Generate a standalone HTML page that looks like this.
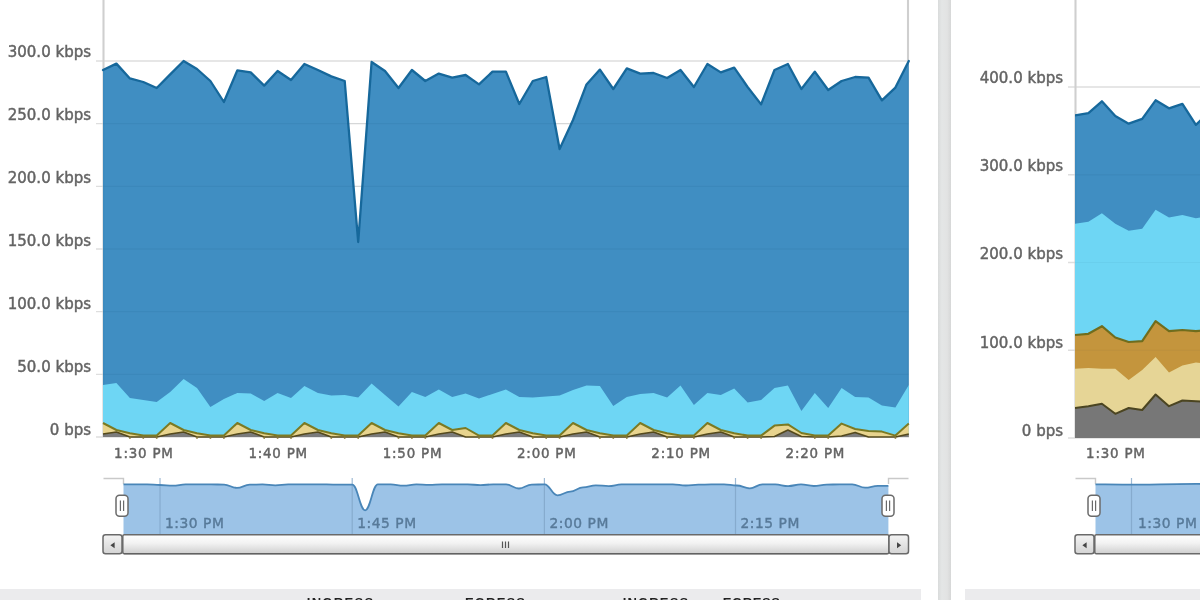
<!DOCTYPE html>
<html lang="en">
<head>
<meta charset="utf-8">
<title>Bandwidth charts</title>
<style>
html,body{margin:0;padding:0;background:#fff;}
body{width:1200px;height:600px;overflow:hidden;position:relative;}
svg{display:block;position:absolute;left:0;top:0;}
svg text{font-family:"DejaVu Sans", "Liberation Sans", sans-serif;font-size:15px;fill:#646464;stroke:#646464;stroke-width:0.45px;}
svg text.nl{fill:#587a99;stroke:#587a99;stroke-width:0.4px;font-size:13.8px;letter-spacing:0.55px;}
svg text.xl{font-size:13.4px;letter-spacing:0.8px;}
.hd{font-family:"Liberation Sans",sans-serif;font-size:13px;font-weight:bold;fill:#222;stroke:none;}
</style>
</head>
<body>
<svg width="1200" height="600" viewBox="0 0 1200 600">
<defs>
<linearGradient id="sb" x1="0" y1="0" x2="0" y2="1"><stop offset="0" stop-color="#ffffff"/><stop offset="0.45" stop-color="#f2f2f2"/><stop offset="1" stop-color="#cfcfcf"/></linearGradient>
<linearGradient id="bt" x1="0" y1="0" x2="0" y2="1"><stop offset="0" stop-color="#f4f4f4"/><stop offset="1" stop-color="#d4d4d4"/></linearGradient>
<linearGradient id="sep" x1="0" y1="0" x2="1" y2="0"><stop offset="0" stop-color="#d9dbdb"/><stop offset="0.3" stop-color="#e4e6e6"/><stop offset="0.7" stop-color="#e2e3e3"/><stop offset="1" stop-color="#d6d7d7"/></linearGradient>
<clipPath id="cr"><rect x="1075" y="0" width="140" height="600"/></clipPath>
<filter id="soft" x="-2%" y="-2%" width="104%" height="104%"><feGaussianBlur stdDeviation="0.5"/></filter>
</defs>
<rect width="1200" height="600" fill="#ffffff"/>
<g filter="url(#soft)">
<rect x="-20" y="-20" width="1240" height="640" fill="#ffffff"/>
<rect x="938" y="-10" width="13" height="620" fill="url(#sep)"/>
<rect x="-10" y="589" width="931" height="21" fill="#ebebed"/>
<rect x="965" y="589" width="250" height="21" fill="#ebebed"/>
<text class="hd" x="306.7" y="606.6" textLength="66.5" lengthAdjust="spacing">INGRESS</text>
<text class="hd" x="465" y="606.6" textLength="60" lengthAdjust="spacing">EGRESS</text>
<text class="hd" x="622.7" y="606.6" textLength="65.5" lengthAdjust="spacing">INGRESS</text>
<text class="hd" x="722.8" y="606.6" textLength="57" lengthAdjust="spacing">EGRESS</text>
<g id="left-chart">
<line x1="96" y1="61.00" x2="909" y2="61.00" stroke="#dedede" stroke-width="1.4"/>
<line x1="96" y1="123.67" x2="909" y2="123.67" stroke="#dedede" stroke-width="1.4"/>
<line x1="96" y1="186.33" x2="909" y2="186.33" stroke="#dedede" stroke-width="1.4"/>
<line x1="96" y1="249.00" x2="909" y2="249.00" stroke="#dedede" stroke-width="1.4"/>
<line x1="96" y1="311.67" x2="909" y2="311.67" stroke="#dedede" stroke-width="1.4"/>
<line x1="96" y1="374.33" x2="909" y2="374.33" stroke="#dedede" stroke-width="1.4"/>
<line x1="96" y1="437.00" x2="909" y2="437.00" stroke="#dedede" stroke-width="1.4"/>
<line x1="103.5" y1="-10" x2="103.5" y2="437" stroke="#cfcfcf" stroke-width="2.1"/>
<line x1="908" y1="-10" x2="908" y2="437" stroke="#cfcfcf" stroke-width="2.1"/>
<polygon points="103.0,437.0 103.0,70.0 116.4,63.6 129.9,78.4 143.3,82.0 156.7,88.0 170.2,74.4 183.6,61.0 197.0,69.0 210.4,81.0 223.9,102.0 237.3,70.4 250.7,72.4 264.2,85.6 277.6,71.0 291.0,80.0 304.4,64.0 317.9,70.0 331.3,76.4 344.7,81.0 358.2,242.0 371.6,62.0 385.0,71.0 398.5,88.0 411.9,70.0 425.3,81.0 438.8,73.6 452.2,77.6 465.6,75.0 479.0,84.4 492.5,71.6 505.9,71.6 519.3,104.0 532.8,81.0 546.2,77.0 559.6,149.0 573.0,120.0 586.5,84.4 599.9,69.6 613.3,89.0 626.8,68.4 640.2,73.6 653.6,73.0 667.1,78.0 680.5,70.0 693.9,87.0 707.4,64.0 720.8,72.4 734.2,67.6 747.6,87.0 761.1,104.4 774.5,70.0 787.9,64.0 801.4,89.0 814.8,71.6 828.2,90.0 841.6,81.0 855.1,77.0 868.5,77.6 881.9,100.4 895.4,87.6 908.8,61.0 908.8,437.0" fill="#3084bd" fill-opacity="0.92"/>
<polygon points="103.0,437.0 103.0,385.0 116.4,383.0 129.9,398.0 143.3,400.0 156.7,402.0 170.2,392.0 183.6,379.0 197.0,388.0 210.4,407.0 223.9,399.0 237.3,393.0 250.7,393.6 264.2,401.0 277.6,393.0 291.0,398.0 304.4,386.0 317.9,393.0 331.3,395.6 344.7,395.0 358.2,397.6 371.6,383.6 385.0,395.0 398.5,406.4 411.9,392.0 425.3,397.0 438.8,389.6 452.2,397.0 465.6,393.6 479.0,398.4 492.5,394.0 505.9,389.6 519.3,397.0 532.8,397.6 546.2,396.6 559.6,395.6 573.0,390.0 586.5,385.6 599.9,386.0 613.3,406.0 626.8,397.0 640.2,394.0 653.6,393.0 667.1,397.6 680.5,385.6 693.9,405.0 707.4,393.0 720.8,395.0 734.2,388.4 747.6,402.4 761.1,400.0 774.5,388.0 787.9,385.6 801.4,411.0 814.8,393.0 828.2,408.0 841.6,388.0 855.1,397.0 868.5,397.6 881.9,405.6 895.4,407.6 908.8,385.0 908.8,437.0" fill="#6ed6f4"/>
<polygon points="103.0,437.0 103.0,423.0 116.4,430.0 129.9,433.3 143.3,435.6 156.7,435.6 170.2,423.0 183.6,430.0 197.0,433.3 210.4,435.6 223.9,435.6 237.3,423.0 250.7,430.0 264.2,433.3 277.6,435.6 291.0,435.6 304.4,423.0 317.9,430.0 331.3,433.3 344.7,435.6 358.2,435.6 371.6,423.0 385.0,430.0 398.5,433.3 411.9,435.6 425.3,435.6 438.8,423.0 452.2,430.0 465.6,428.0 479.0,435.6 492.5,435.6 505.9,423.0 519.3,430.0 532.8,433.3 546.2,435.6 559.6,435.6 573.0,423.0 586.5,430.0 599.9,433.3 613.3,435.6 626.8,435.6 640.2,423.0 653.6,430.0 667.1,433.3 680.5,435.6 693.9,435.6 707.4,423.0 720.8,430.0 734.2,433.3 747.6,435.6 761.1,435.6 774.5,425.6 787.9,424.4 801.4,433.0 814.8,435.6 828.2,435.6 841.6,423.6 855.1,429.0 868.5,431.0 881.9,431.6 895.4,435.6 908.8,423.6 908.8,437.0" fill="#e8d48e"/>
<polygon points="103.0,437.0 103.0,434.0 116.4,432.0 129.9,437.0 143.3,437.0 156.7,437.0 170.2,434.0 183.6,432.0 197.0,437.0 210.4,437.0 223.9,437.0 237.3,434.0 250.7,432.0 264.2,437.0 277.6,437.0 291.0,437.0 304.4,434.0 317.9,432.0 331.3,437.0 344.7,437.0 358.2,437.0 371.6,434.0 385.0,432.0 398.5,437.0 411.9,437.0 425.3,437.0 438.8,434.0 452.2,432.0 465.6,437.0 479.0,437.0 492.5,437.0 505.9,434.0 519.3,432.0 532.8,437.0 546.2,437.0 559.6,437.0 573.0,434.0 586.5,432.0 599.9,437.0 613.3,437.0 626.8,437.0 640.2,434.0 653.6,432.0 667.1,437.0 680.5,437.0 693.9,437.0 707.4,434.0 720.8,432.0 734.2,437.0 747.6,437.0 761.1,437.0 774.5,436.5 787.9,430.0 801.4,436.5 814.8,437.0 828.2,437.0 841.6,436.0 855.1,432.4 868.5,437.0 881.9,437.0 895.4,437.0 908.8,434.0 908.8,437.0" fill="#7b7b7b"/>
<polyline points="103.0,434.0 116.4,432.0 129.9,437.0 143.3,437.0 156.7,437.0 170.2,434.0 183.6,432.0 197.0,437.0 210.4,437.0 223.9,437.0 237.3,434.0 250.7,432.0 264.2,437.0 277.6,437.0 291.0,437.0 304.4,434.0 317.9,432.0 331.3,437.0 344.7,437.0 358.2,437.0 371.6,434.0 385.0,432.0 398.5,437.0 411.9,437.0 425.3,437.0 438.8,434.0 452.2,432.0 465.6,437.0 479.0,437.0 492.5,437.0 505.9,434.0 519.3,432.0 532.8,437.0 546.2,437.0 559.6,437.0 573.0,434.0 586.5,432.0 599.9,437.0 613.3,437.0 626.8,437.0 640.2,434.0 653.6,432.0 667.1,437.0 680.5,437.0 693.9,437.0 707.4,434.0 720.8,432.0 734.2,437.0 747.6,437.0 761.1,437.0 774.5,436.5 787.9,430.0 801.4,436.5 814.8,437.0 828.2,437.0 841.6,436.0 855.1,432.4 868.5,437.0 881.9,437.0 895.4,437.0 908.8,434.0" fill="none" stroke="#544a1e" stroke-width="1.6" stroke-linejoin="round"/>
<polyline points="103.0,423.0 116.4,430.0 129.9,433.3 143.3,435.6 156.7,435.6 170.2,423.0 183.6,430.0 197.0,433.3 210.4,435.6 223.9,435.6 237.3,423.0 250.7,430.0 264.2,433.3 277.6,435.6 291.0,435.6 304.4,423.0 317.9,430.0 331.3,433.3 344.7,435.6 358.2,435.6 371.6,423.0 385.0,430.0 398.5,433.3 411.9,435.6 425.3,435.6 438.8,423.0 452.2,430.0 465.6,428.0 479.0,435.6 492.5,435.6 505.9,423.0 519.3,430.0 532.8,433.3 546.2,435.6 559.6,435.6 573.0,423.0 586.5,430.0 599.9,433.3 613.3,435.6 626.8,435.6 640.2,423.0 653.6,430.0 667.1,433.3 680.5,435.6 693.9,435.6 707.4,423.0 720.8,430.0 734.2,433.3 747.6,435.6 761.1,435.6 774.5,425.6 787.9,424.4 801.4,433.0 814.8,435.6 828.2,435.6 841.6,423.6 855.1,429.0 868.5,431.0 881.9,431.6 895.4,435.6 908.8,423.6" fill="none" stroke="#7c7a24" stroke-width="2" stroke-linejoin="round"/>
<polyline points="103.0,70.0 116.4,63.6 129.9,78.4 143.3,82.0 156.7,88.0 170.2,74.4 183.6,61.0 197.0,69.0 210.4,81.0 223.9,102.0 237.3,70.4 250.7,72.4 264.2,85.6 277.6,71.0 291.0,80.0 304.4,64.0 317.9,70.0 331.3,76.4 344.7,81.0 358.2,242.0 371.6,62.0 385.0,71.0 398.5,88.0 411.9,70.0 425.3,81.0 438.8,73.6 452.2,77.6 465.6,75.0 479.0,84.4 492.5,71.6 505.9,71.6 519.3,104.0 532.8,81.0 546.2,77.0 559.6,149.0 573.0,120.0 586.5,84.4 599.9,69.6 613.3,89.0 626.8,68.4 640.2,73.6 653.6,73.0 667.1,78.0 680.5,70.0 693.9,87.0 707.4,64.0 720.8,72.4 734.2,67.6 747.6,87.0 761.1,104.4 774.5,70.0 787.9,64.0 801.4,89.0 814.8,71.6 828.2,90.0 841.6,81.0 855.1,77.0 868.5,77.6 881.9,100.4 895.4,87.6 908.8,61.0" fill="none" stroke="#17679b" stroke-width="2.3" stroke-linejoin="round" stroke-linecap="round"/>
<line x1="103" y1="123.67" x2="909" y2="123.67" stroke="#00304a" stroke-width="1.2" stroke-opacity="0.04"/>
<line x1="103" y1="186.33" x2="909" y2="186.33" stroke="#00304a" stroke-width="1.2" stroke-opacity="0.04"/>
<line x1="103" y1="249.00" x2="909" y2="249.00" stroke="#00304a" stroke-width="1.2" stroke-opacity="0.04"/>
<line x1="103" y1="311.67" x2="909" y2="311.67" stroke="#00304a" stroke-width="1.2" stroke-opacity="0.04"/>
<line x1="103" y1="374.33" x2="909" y2="374.33" stroke="#00304a" stroke-width="1.2" stroke-opacity="0.04"/>
<path d="M129.9,436.5 v2.4 M143.3,436.5 v2.4 M156.7,436.5 v2.4 M197.0,436.5 v2.4 M210.4,436.5 v2.4 M223.9,436.5 v2.4 M264.2,436.5 v2.4 M277.6,436.5 v2.4 M291.0,436.5 v2.4 M331.3,436.5 v2.4 M344.7,436.5 v2.4 M358.2,436.5 v2.4 M398.5,436.5 v2.4 M411.9,436.5 v2.4 M425.3,436.5 v2.4 M479.0,436.5 v2.4 M492.5,436.5 v2.4 M532.8,436.5 v2.4 M546.2,436.5 v2.4 M559.6,436.5 v2.4 M599.9,436.5 v2.4 M613.3,436.5 v2.4 M626.8,436.5 v2.4 M667.1,436.5 v2.4 M680.5,436.5 v2.4 M693.9,436.5 v2.4 M734.2,436.5 v2.4 M747.6,436.5 v2.4 M761.1,436.5 v2.4 M814.8,436.5 v2.4 M828.2,436.5 v2.4 M895.4,436.5 v2.4 " stroke="#8a7a3a" stroke-width="1.6" stroke-opacity="0.8"/>
<text x="91" y="57.0" text-anchor="end">300.0 kbps</text>
<text x="91" y="120.0" text-anchor="end">250.0 kbps</text>
<text x="91" y="183.0" text-anchor="end">200.0 kbps</text>
<text x="91" y="246.0" text-anchor="end">150.0 kbps</text>
<text x="91" y="309.0" text-anchor="end">100.0 kbps</text>
<text x="91" y="372.0" text-anchor="end">50.0 kbps</text>
<text x="91" y="435.0" text-anchor="end">0 bps</text>
<text class="xl" x="143.9" y="457.5" text-anchor="middle">1:30 PM</text>
<text class="xl" x="278.2" y="457.5" text-anchor="middle">1:40 PM</text>
<text class="xl" x="412.5" y="457.5" text-anchor="middle">1:50 PM</text>
<text class="xl" x="546.8" y="457.5" text-anchor="middle">2:00 PM</text>
<text class="xl" x="681.1" y="457.5" text-anchor="middle">2:10 PM</text>
<text class="xl" x="815.4" y="457.5" text-anchor="middle">2:20 PM</text>
<path d="M103.5,478.5 H123.5 V484" fill="none" stroke="#c9c9c9" stroke-width="1.4"/>
<path d="M908.5,478.5 H888.5 V484" fill="none" stroke="#c9c9c9" stroke-width="1.4"/>
<path d="M123.5,484.4 C128.0,484.4 129.8,484.4 134.3,484.4 C139.7,484.4 141.8,484.4 147.1,484.4 C152.5,484.4 154.6,485.0 160.0,485.0 C165.3,485.0 167.4,485.7 172.8,485.7 C178.2,485.7 180.2,484.4 185.6,484.4 C191.0,484.4 193.0,484.4 198.4,484.4 C203.8,484.4 205.9,484.4 211.2,484.4 C216.6,484.4 218.7,484.6 224.1,484.6 C229.4,484.6 231.5,487.9 236.9,487.9 C242.3,487.9 244.3,484.7 249.7,484.7 C255.1,484.7 257.1,484.4 262.5,484.4 C267.9,484.4 270.0,485.3 275.3,485.3 C280.7,485.3 282.8,484.4 288.2,484.4 C293.5,484.4 295.6,484.4 301.0,484.4 C306.4,484.4 308.4,484.4 313.8,484.4 C319.2,484.4 321.2,484.4 326.6,484.4 C332.0,484.4 334.1,484.7 339.4,484.7 C344.8,484.7 346.9,484.6 352.3,484.6 C357.6,484.6 359.7,510.3 365.1,510.3 C370.5,510.3 372.5,484.4 377.9,484.4 C383.3,484.4 385.3,484.4 390.7,484.4 C396.1,484.4 398.2,485.7 403.5,485.7 C408.9,485.7 411.0,484.4 416.4,484.4 C421.7,484.4 423.8,484.9 429.2,484.9 C434.6,484.9 436.6,484.4 442.0,484.4 C447.4,484.4 449.4,484.4 454.8,484.4 C460.2,484.4 462.3,484.4 467.6,484.4 C473.0,484.4 475.1,485.1 480.5,485.1 C485.8,485.1 487.9,484.4 493.3,484.4 C498.7,484.4 500.7,484.4 506.1,484.4 C511.5,484.4 513.5,488.5 518.9,488.5 C524.3,488.5 526.4,484.6 531.7,484.6 C537.1,484.6 539.2,484.4 544.6,484.4 C549.9,484.4 552.0,495.4 557.4,495.4 C562.8,495.4 564.8,491.6 570.2,491.6 C575.6,491.6 577.6,487.4 583.0,487.4 C588.4,487.4 590.5,485.3 595.8,485.3 C601.2,485.3 603.3,486.1 608.7,486.1 C614.0,486.1 616.1,484.4 621.5,484.4 C626.9,484.4 628.9,484.4 634.3,484.4 C639.7,484.4 641.7,484.4 647.1,484.4 C652.5,484.4 654.6,484.4 659.9,484.4 C665.3,484.4 667.4,484.4 672.8,484.4 C678.1,484.4 680.2,485.5 685.6,485.5 C691.0,485.5 693.0,484.7 698.4,484.7 C703.8,484.7 705.8,484.4 711.2,484.4 C716.6,484.4 718.7,484.4 724.0,484.4 C729.4,484.4 731.5,485.5 736.9,485.5 C742.2,485.5 744.3,488.3 749.7,488.3 C755.1,488.3 757.1,484.4 762.5,484.4 C767.9,484.4 769.9,484.4 775.3,484.4 C780.7,484.4 782.8,486.1 788.1,486.1 C793.5,486.1 795.6,484.4 801.0,484.4 C806.3,484.4 808.4,486.0 813.8,486.0 C819.2,486.0 821.2,484.6 826.6,484.6 C832.0,484.6 834.0,484.4 839.4,484.4 C844.8,484.4 846.9,484.4 852.2,484.4 C857.6,484.4 859.7,487.7 865.1,487.7 C870.4,487.7 872.5,485.9 877.9,485.9 C882.3,485.9 884.0,485.9 888.4,485.9 L888.4,534 L123.5,534 Z" fill="#9cc3e7"/>
<line x1="160" y1="478" x2="160" y2="534" stroke="#7fa3c6" stroke-width="1.2" stroke-opacity="0.75"/>
<line x1="352.2" y1="478" x2="352.2" y2="534" stroke="#7fa3c6" stroke-width="1.2" stroke-opacity="0.75"/>
<line x1="544.4" y1="478" x2="544.4" y2="534" stroke="#7fa3c6" stroke-width="1.2" stroke-opacity="0.75"/>
<line x1="735.5" y1="478" x2="735.5" y2="534" stroke="#7fa3c6" stroke-width="1.2" stroke-opacity="0.75"/>
<path d="M123.5,484.4 C128.0,484.4 129.8,484.4 134.3,484.4 C139.7,484.4 141.8,484.4 147.1,484.4 C152.5,484.4 154.6,485.0 160.0,485.0 C165.3,485.0 167.4,485.7 172.8,485.7 C178.2,485.7 180.2,484.4 185.6,484.4 C191.0,484.4 193.0,484.4 198.4,484.4 C203.8,484.4 205.9,484.4 211.2,484.4 C216.6,484.4 218.7,484.6 224.1,484.6 C229.4,484.6 231.5,487.9 236.9,487.9 C242.3,487.9 244.3,484.7 249.7,484.7 C255.1,484.7 257.1,484.4 262.5,484.4 C267.9,484.4 270.0,485.3 275.3,485.3 C280.7,485.3 282.8,484.4 288.2,484.4 C293.5,484.4 295.6,484.4 301.0,484.4 C306.4,484.4 308.4,484.4 313.8,484.4 C319.2,484.4 321.2,484.4 326.6,484.4 C332.0,484.4 334.1,484.7 339.4,484.7 C344.8,484.7 346.9,484.6 352.3,484.6 C357.6,484.6 359.7,510.3 365.1,510.3 C370.5,510.3 372.5,484.4 377.9,484.4 C383.3,484.4 385.3,484.4 390.7,484.4 C396.1,484.4 398.2,485.7 403.5,485.7 C408.9,485.7 411.0,484.4 416.4,484.4 C421.7,484.4 423.8,484.9 429.2,484.9 C434.6,484.9 436.6,484.4 442.0,484.4 C447.4,484.4 449.4,484.4 454.8,484.4 C460.2,484.4 462.3,484.4 467.6,484.4 C473.0,484.4 475.1,485.1 480.5,485.1 C485.8,485.1 487.9,484.4 493.3,484.4 C498.7,484.4 500.7,484.4 506.1,484.4 C511.5,484.4 513.5,488.5 518.9,488.5 C524.3,488.5 526.4,484.6 531.7,484.6 C537.1,484.6 539.2,484.4 544.6,484.4 C549.9,484.4 552.0,495.4 557.4,495.4 C562.8,495.4 564.8,491.6 570.2,491.6 C575.6,491.6 577.6,487.4 583.0,487.4 C588.4,487.4 590.5,485.3 595.8,485.3 C601.2,485.3 603.3,486.1 608.7,486.1 C614.0,486.1 616.1,484.4 621.5,484.4 C626.9,484.4 628.9,484.4 634.3,484.4 C639.7,484.4 641.7,484.4 647.1,484.4 C652.5,484.4 654.6,484.4 659.9,484.4 C665.3,484.4 667.4,484.4 672.8,484.4 C678.1,484.4 680.2,485.5 685.6,485.5 C691.0,485.5 693.0,484.7 698.4,484.7 C703.8,484.7 705.8,484.4 711.2,484.4 C716.6,484.4 718.7,484.4 724.0,484.4 C729.4,484.4 731.5,485.5 736.9,485.5 C742.2,485.5 744.3,488.3 749.7,488.3 C755.1,488.3 757.1,484.4 762.5,484.4 C767.9,484.4 769.9,484.4 775.3,484.4 C780.7,484.4 782.8,486.1 788.1,486.1 C793.5,486.1 795.6,484.4 801.0,484.4 C806.3,484.4 808.4,486.0 813.8,486.0 C819.2,486.0 821.2,484.6 826.6,484.6 C832.0,484.6 834.0,484.4 839.4,484.4 C844.8,484.4 846.9,484.4 852.2,484.4 C857.6,484.4 859.7,487.7 865.1,487.7 C870.4,487.7 872.5,485.9 877.9,485.9 C882.3,485.9 884.0,485.9 888.4,485.9" fill="none" stroke="#4a86b8" stroke-width="1.8"/>
<text class="nl" x="165.0" y="527.7">1:30 PM</text>
<text class="nl" x="357.2" y="527.7">1:45 PM</text>
<text class="nl" x="549.4" y="527.7">2:00 PM</text>
<text class="nl" x="740.5" y="527.7">2:15 PM</text>
<rect x="122.8" y="534.7" width="766.1" height="19" rx="1.5" fill="url(#sb)" stroke="#6a6a6a" stroke-width="1.5"/>
<line x1="124" y1="553.9" x2="887.5" y2="553.9" stroke="#555" stroke-width="1" stroke-opacity="0.6"/>
<rect x="103" y="534.7" width="19" height="19" rx="2.5" fill="url(#bt)" stroke="#6a6a6a" stroke-width="1.5"/>
<path d="M110.4,545.3 l4.2,-3 v6 z" fill="#444"/>
<rect x="889" y="534.7" width="19.5" height="19" rx="2.5" fill="url(#bt)" stroke="#6a6a6a" stroke-width="1.5"/>
<path d="M901.2,545.3 l-4.2,-3 v6 z" fill="#444"/>
<path d="M502.5,541.5 v6.6 M505.5,541.5 v6.6 M508.5,541.5 v6.6" stroke="#555" stroke-width="1.2"/>
<rect x="116" y="495.3" width="12" height="21" rx="3.5" fill="#ffffff" stroke="#6b6b6b" stroke-width="1.5"/>
<path d="M120.4,500.5 v10.5 M123.6,500.5 v10.5" stroke="#6b6b6b" stroke-width="1.2"/>
<rect x="882" y="495.3" width="12" height="21" rx="3.5" fill="#ffffff" stroke="#6b6b6b" stroke-width="1.5"/>
<path d="M886.4,500.5 v10.5 M889.6,500.5 v10.5" stroke="#6b6b6b" stroke-width="1.2"/>
</g>
<g id="right-chart">
<line x1="1068" y1="87.00" x2="1215" y2="87.00" stroke="#dedede" stroke-width="1.4"/>
<line x1="1068" y1="174.75" x2="1215" y2="174.75" stroke="#dedede" stroke-width="1.4"/>
<line x1="1068" y1="262.50" x2="1215" y2="262.50" stroke="#dedede" stroke-width="1.4"/>
<line x1="1068" y1="350.25" x2="1215" y2="350.25" stroke="#dedede" stroke-width="1.4"/>
<line x1="1068" y1="438.00" x2="1215" y2="438.00" stroke="#dedede" stroke-width="1.4"/>
<line x1="1075.5" y1="-10" x2="1075.5" y2="438" stroke="#cfcfcf" stroke-width="2.1"/>
<g clip-path="url(#cr)">
<polygon points="1075.0,438.0 1075.0,115.3 1088.4,113.2 1101.9,101.3 1115.3,116.0 1128.7,123.7 1142.2,118.8 1155.6,100.3 1169.0,108.3 1182.4,103.8 1195.9,124.8 1209.3,112.0 1209.3,438.0" fill="#3084bd" fill-opacity="0.92"/>
<polygon points="1075.0,438.0 1075.0,223.8 1088.4,221.7 1101.9,213.3 1115.3,223.8 1128.7,230.8 1142.2,228.7 1155.6,209.8 1169.0,217.5 1182.4,215.0 1195.9,218.2 1209.3,216.0 1209.3,438.0" fill="#6ed6f4"/>
<polygon points="1075.0,438.0 1075.0,335.0 1088.4,333.8 1101.9,326.2 1115.3,337.5 1128.7,342.0 1142.2,341.2 1155.6,321.2 1169.0,331.2 1182.4,330.0 1195.9,331.2 1209.3,330.0 1209.3,438.0" fill="#c4953c"/>
<polygon points="1075.0,438.0 1075.0,368.8 1088.4,368.0 1101.9,368.8 1115.3,368.8 1128.7,380.0 1142.2,370.0 1155.6,357.0 1169.0,372.5 1182.4,365.5 1195.9,362.5 1209.3,364.0 1209.3,438.0" fill="#e6d596"/>
<polygon points="1075.0,438.0 1075.0,408.0 1088.4,406.2 1101.9,403.8 1115.3,413.8 1128.7,408.0 1142.2,410.0 1155.6,394.5 1169.0,406.2 1182.4,400.5 1195.9,401.2 1209.3,402.0 1209.3,438.0" fill="#777777"/>
<polyline points="1075.0,408.0 1088.4,406.2 1101.9,403.8 1115.3,413.8 1128.7,408.0 1142.2,410.0 1155.6,394.5 1169.0,406.2 1182.4,400.5 1195.9,401.2 1209.3,402.0" fill="none" stroke="#4c4520" stroke-width="2" stroke-linejoin="round"/>
<polyline points="1075.0,335.0 1088.4,333.8 1101.9,326.2 1115.3,337.5 1128.7,342.0 1142.2,341.2 1155.6,321.2 1169.0,331.2 1182.4,330.0 1195.9,331.2 1209.3,330.0" fill="none" stroke="#6f6d1f" stroke-width="2.2" stroke-linejoin="round"/>
<polyline points="1075.0,115.3 1088.4,113.2 1101.9,101.3 1115.3,116.0 1128.7,123.7 1142.2,118.8 1155.6,100.3 1169.0,108.3 1182.4,103.8 1195.9,124.8 1209.3,112.0" fill="none" stroke="#17679b" stroke-width="2.3" stroke-linejoin="round"/>
<line x1="1075" y1="174.75" x2="1215" y2="174.75" stroke="#00304a" stroke-width="1.2" stroke-opacity="0.04"/>
<line x1="1075" y1="262.50" x2="1215" y2="262.50" stroke="#00304a" stroke-width="1.2" stroke-opacity="0.04"/>
<line x1="1075" y1="350.25" x2="1215" y2="350.25" stroke="#00304a" stroke-width="1.2" stroke-opacity="0.04"/>
</g>
<text x="1063" y="82.8" text-anchor="end">400.0 kbps</text>
<text x="1063" y="171.1" text-anchor="end">300.0 kbps</text>
<text x="1063" y="259.4" text-anchor="end">200.0 kbps</text>
<text x="1063" y="347.7" text-anchor="end">100.0 kbps</text>
<text x="1063" y="436.0" text-anchor="end">0 bps</text>
<text class="xl" x="1115.9" y="457.5" text-anchor="middle">1:30 PM</text>
<path d="M1075.5,478.5 H1095.5 V484" fill="none" stroke="#c9c9c9" stroke-width="1.4"/>
<path d="M1095.5,484.3 C1120,484.6 1140,485 1160,484.4 S1190,483.6 1215,484 V534 H1095.5 Z" fill="#9cc3e7"/>
<line x1="1131.5" y1="478" x2="1131.5" y2="534" stroke="#7fa3c6" stroke-width="1.2" stroke-opacity="0.75"/>
<path d="M1095.5,484.3 C1120,484.6 1140,485 1160,484.4 S1190,483.6 1215,484" fill="none" stroke="#4a86b8" stroke-width="1.8"/>
<text class="nl" x="1138" y="527.7">1:30 PM</text>
<rect x="1094.8" y="534.7" width="130" height="19" rx="1.5" fill="url(#sb)" stroke="#6a6a6a" stroke-width="1.5"/>
<rect x="1075" y="534.7" width="19" height="19" rx="2.5" fill="url(#bt)" stroke="#6a6a6a" stroke-width="1.5"/>
<path d="M1082.4,545.3 l4.2,-3 v6 z" fill="#444"/>
<rect x="1088" y="495.3" width="12" height="21" rx="3.5" fill="#ffffff" stroke="#6b6b6b" stroke-width="1.5"/>
<path d="M1092.4,500.5 v10.5 M1095.6,500.5 v10.5" stroke="#6b6b6b" stroke-width="1.2"/>
</g>
</g>
</svg>
</body>
</html>
